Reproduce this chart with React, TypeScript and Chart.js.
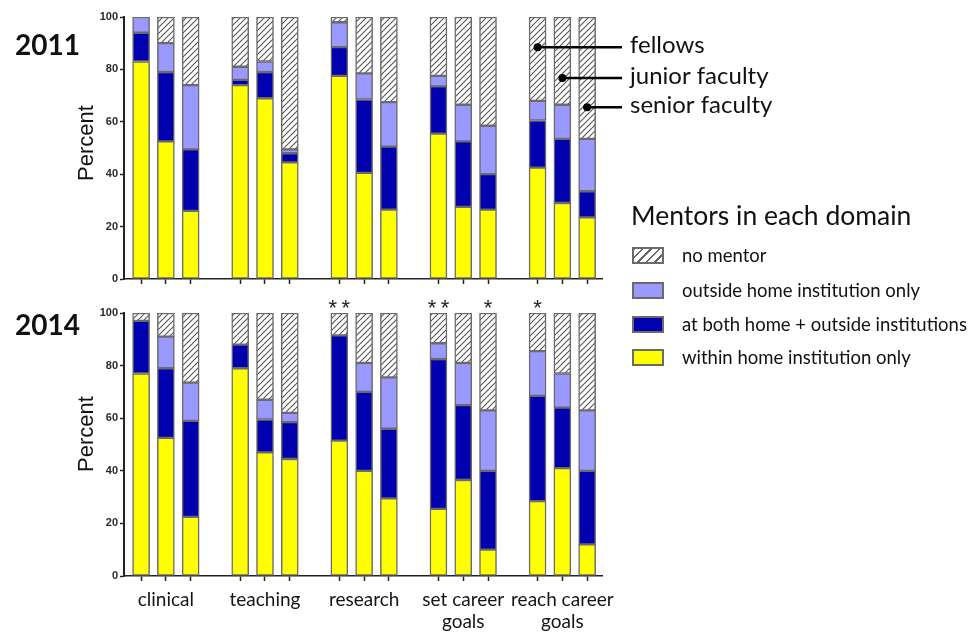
import React, { useEffect, useRef } from 'react';
import { Chart, registerables } from 'chart.js';
Chart.register(...registerables);

const domains: (string | string[])[] = ['clinical', 'teaching', 'research', ['set career', 'goals'], ['reach career', 'goals']];
const ranks = ['fellows', 'junior faculty', 'senior faculty'];
const seriesNames = ['within home institution only', 'at both home + outside institutions', 'outside home institution only', 'no mentor'];
const yTicks = [0, 20, 40, 60, 80, 100];

// bars in order: clinical F,J,S | teaching F,J,S | research F,J,S | set career goals F,J,S | reach career goals F,J,S
const within2011 = [83, 52.5, 26, 74, 69, 44.5, 77.5, 40.5, 26.5, 55.5, 27.5, 26.5, 42.5, 29, 23.5];
const both2011 = [11, 26.5, 23.5, 2, 10, 3.5, 11, 28, 24, 18, 25, 13.5, 18, 24.5, 10];
const outside2011 = [6, 11, 24.5, 5, 4, 1.5, 9.5, 10, 17, 4, 14, 18.5, 7.5, 13, 20];
const none2011 = [0, 10, 26, 19, 17, 50.5, 2, 21.5, 32.5, 22.5, 33.5, 41.5, 32, 33.5, 46.5];

const within2014 = [77, 52.5, 22.5, 79, 47, 44.5, 51.5, 40, 29.5, 25.5, 36.5, 10, 28.5, 41, 12];
const both2014 = [20, 26.5, 36.5, 9, 12.5, 14, 40, 30, 26.5, 57, 28.5, 30, 40, 23, 28];
const outside2014 = [0, 12, 14.5, 0, 7.5, 3.5, 0, 11, 19.5, 6, 16, 23, 17, 13, 23];
const none2014 = [3, 9, 26.5, 12, 33, 38, 8.5, 19, 24.5, 11.5, 19, 37, 14.5, 23, 37];

const stars2014 = ['', '', '', '', '', '', '**', '', '', '**', '', '*', '*', '', ''];

// rank labels point into the last group's bars (bar index, percent level)
const rankPointerBars = [12, 13, 14];
const rankPointerLevels = [88.5, 76.7, 65.6];

const YELLOW = '#FFFF00';
const DARK = '#0000AF';
const LIGHT = '#9999FF';
const EDGE = '#6b6b6b';

const barPos = (i: number) => Math.floor(i / 3) * 4 + (i % 3);

function hatch(): CanvasPattern | string {
  const c = document.createElement('canvas');
  c.width = 6; c.height = 6;
  const g = c.getContext('2d');
  if (!g) return '#ddd';
  g.fillStyle = '#fff';
  g.fillRect(0, 0, 6, 6);
  g.strokeStyle = '#555';
  g.lineWidth = 1.1;
  g.beginPath();
  g.moveTo(0, 6); g.lineTo(6, 0);
  g.moveTo(-1, 1); g.lineTo(1, -1);
  g.moveTo(5, 7); g.lineTo(7, 5);
  g.stroke();
  return g.createPattern(c, 'repeat') || '#ddd';
}

type Opts = {
  year: string;
  yearY: number;
  percentY: number;
  padTop: number;
  xHeight: number;
  showLabels: boolean;
  annotate: boolean;
  stars: string[] | null;
  series: number[][];
};

function makeConfig(o: Opts): any {
  const pattern = hatch();
  const colors = [YELLOW, DARK, LIGHT, pattern];
  const datasets = o.series.map((vals, s) => ({
    label: seriesNames[s],
    data: vals.map((v, i) => ({ x: barPos(i), y: v })),
    backgroundColor: colors[s],
    borderColor: EDGE,
    borderWidth: 1.5,
    borderSkipped: false,
    barThickness: 17,
  }));
  const overlay = {
    id: 'overlay',
    afterDraw(chart: any) {
      const { ctx, chartArea, scales } = chart;
      const xs = scales.x, ys = scales.y;
      ctx.save();
      ctx.fillStyle = '#111';
      ctx.textAlign = 'left';
      ctx.textBaseline = 'middle';
      ctx.font = 'bold 28px Lato';
      ctx.fillText(o.year, 15, o.yearY);
      ctx.save();
      ctx.translate(chartArea.left - 37, o.percentY);
      ctx.rotate(-Math.PI / 2);
      ctx.textAlign = 'center';
      ctx.font = '22px "Liberation Sans"';
      ctx.fillText('Percent', 0, 0);
      ctx.restore();
      if (o.annotate) {
        ranks.forEach((r, k) => {
          const px = xs.getPixelForValue(barPos(rankPointerBars[k]));
          const py = ys.getPixelForValue(rankPointerLevels[k]);
          ctx.strokeStyle = '#000';
          ctx.lineWidth = 2.5;
          ctx.beginPath();
          ctx.moveTo(px, py);
          ctx.lineTo(chartArea.right + 20, py);
          ctx.stroke();
          ctx.fillStyle = '#000';
          ctx.beginPath();
          ctx.arc(px, py, 4, 0, Math.PI * 2);
          ctx.fill();
          ctx.fillStyle = '#111';
          ctx.font = '24px Lato';
          ctx.textAlign = 'left';
          ctx.textBaseline = 'middle';
          ctx.fillText(r, chartArea.right + 28, py - 2);
        });
      }
      if (o.stars) {
        ctx.fillStyle = '#222';
        ctx.font = '22px "Liberation Sans"';
        ctx.textAlign = 'center';
        ctx.textBaseline = 'alphabetic';
        o.stars.forEach((s, i) => {
          if (!s) return;
          const px = xs.getPixelForValue(barPos(i));
          ctx.fillText(s.split('').join('\u2009'), px, chartArea.top + 2);
        });
      }
      ctx.restore();
    },
  };
  return {
    type: 'bar',
    data: { datasets },
    options: {
      animation: false,
      responsive: false,
      events: [],
      layout: { padding: { left: 84, right: 369, top: o.padTop, bottom: 0 } },
      plugins: { legend: { display: false }, tooltip: { enabled: false } },
      scales: {
        x: {
          type: 'linear',
          stacked: true,
          offset: false,
          min: -0.69,
          max: 18.6,
          afterBuildTicks(scale: any) {
            const t = [];
            for (let i = 0; i < 19; i++) t.push({ value: i });
            scale.ticks = t;
          },
          afterFit(scale: any) { scale.height = o.xHeight; },
          border: { display: true, color: '#222', width: 1.5 },
          grid: {
            offset: false,
            drawOnChartArea: false,
            drawTicks: true,
            tickLength: 5,
            tickWidth: 1.5,
            tickColor: (c: any) => (c.tick && c.tick.value % 4 === 3 ? 'rgba(0,0,0,0)' : '#222'),
          },
          ticks: {
            display: o.showLabels,
            autoSkip: false,
            maxRotation: 0,
            padding: 8,
            color: '#151515',
            font: { family: 'Lato', size: 19, lineHeight: 1.15 },
            callback: (v: number) => (v % 4 === 1 ? domains[(v - 1) / 4] : ''),
          },
        },
        y: {
          stacked: true,
          min: 0,
          max: 100,
          afterBuildTicks(scale: any) { scale.ticks = yTicks.map((v) => ({ value: v })); },
          afterFit(scale: any) { scale.width = 40; },
          border: { display: true, color: '#222', width: 2 },
          grid: { drawOnChartArea: false, drawTicks: true, tickLength: 4, color: '#222', tickWidth: 1.5 },
          ticks: {
            padding: 2,
            color: '#2a2a2a',
            font: { family: '"Liberation Sans"', size: 11, weight: 'bold' },
          },
        },
      },
    },
    plugins: [overlay],
  };
}

function ChartCanvas(props: { top: number; height: number; opts: Opts }) {
  const ref = useRef<HTMLCanvasElement | null>(null);
  useEffect(() => {
    if (!ref.current) return;
    const ch = new Chart(ref.current, makeConfig(props.opts));
    return () => ch.destroy();
  }, []);
  return (
    <canvas
      ref={ref}
      width={971}
      height={props.height}
      style={{ position: 'absolute', left: 0, top: props.top, width: 971, height: props.height }}
    />
  );
}

const legendSwatches = [
  { name: seriesNames[3], bg: 'repeating-linear-gradient(-45deg, #fff 0px, #fff 4px, #666 4px, #666 6px)' },
  { name: seriesNames[2], bg: LIGHT },
  { name: seriesNames[1], bg: DARK },
  { name: seriesNames[0], bg: YELLOW },
];
const legendRowsY = [255, 290, 324, 357];

export default function App() {
  return (
    <div style={{ position: 'absolute', left: 0, top: 0, width: 971, height: 634, background: '#fff', overflow: 'hidden' }}>
      <ChartCanvas
        top={0}
        height={290}
        opts={{
          year: '2011', yearY: 46, percentY: 143, padTop: 17, xHeight: 11, showLabels: false,
          annotate: true, stars: null,
          series: [within2011, both2011, outside2011, none2011],
        }}
      />
      <ChartCanvas
        top={290}
        height={344}
        opts={{
          year: '2014', yearY: 36, percentY: 144, padTop: 23, xHeight: 58, showLabels: true,
          annotate: false, stars: stars2014,
          series: [within2014, both2014, outside2014, none2014],
        }}
      />
      <div style={{ position: 'absolute', left: 631, top: 199, fontFamily: 'Lato', fontSize: 26.5, color: '#111', whiteSpace: 'nowrap', lineHeight: '32px' }}>
        Mentors in each domain
      </div>
      {legendSwatches.map((s, k) => (
        <div key={s.name} style={{ position: 'absolute', left: 632, top: legendRowsY[k] - 10, height: 20, display: 'flex', alignItems: 'center', whiteSpace: 'nowrap' }}>
          <div style={{ width: 28, height: 13, border: '2px solid #6b6b6b', background: s.bg }} />
          <div style={{ marginLeft: 18, fontFamily: 'Lato', fontSize: 18.5, color: '#111' }}>{s.name}</div>
        </div>
      ))}
    </div>
  );
}
